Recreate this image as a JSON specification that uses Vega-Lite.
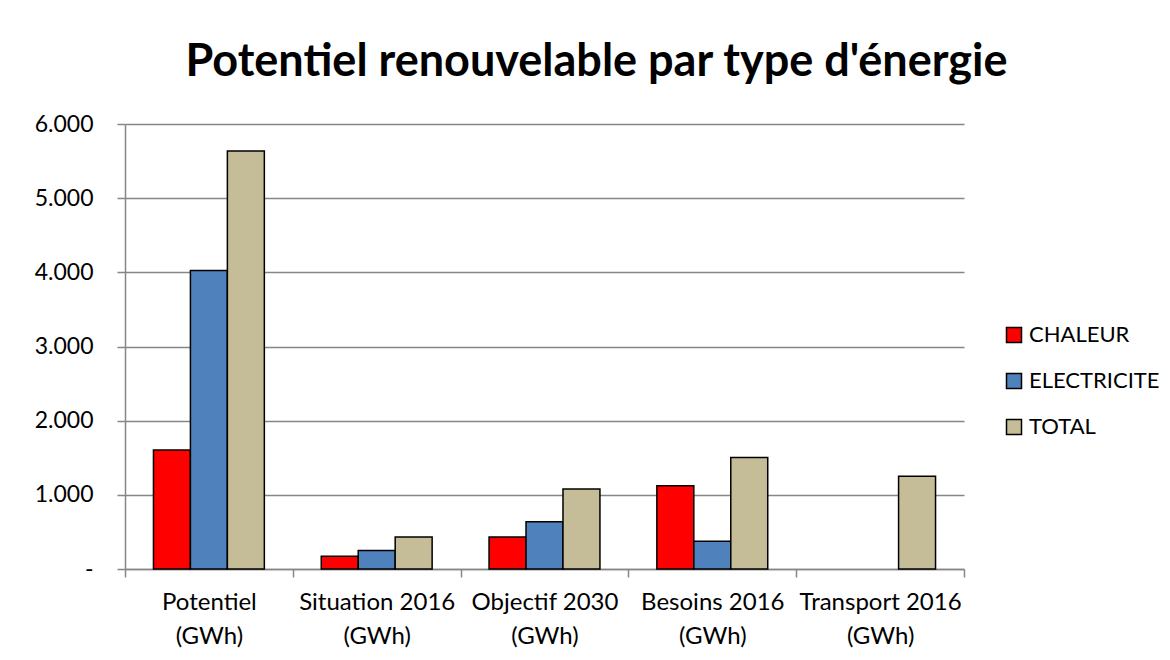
{
  "$schema": "https://vega.github.io/schema/vega-lite/v6.json",
  "autosize": "none",
  "width": 839,
  "height": 445,
  "padding": {"left": 125, "top": 124, "right": 206, "bottom": 91},
  "background": "white",
  "title": {
    "text": "Potentiel renouvelable par type d'énergie",
    "font": "Lato",
    "fontSize": 45,
    "fontWeight": "bold",
    "color": "#000000",
    "anchor": "middle",
    "dx": 52,
    "offset": 28
  },
  "data": {
    "values": [
      {"categorie": "Potentiel (GWh)", "serie": "CHALEUR", "valeur": 1605},
      {"categorie": "Potentiel (GWh)", "serie": "ELECTRICITE", "valeur": 4025},
      {"categorie": "Potentiel (GWh)", "serie": "TOTAL", "valeur": 5635},
      {"categorie": "Situation 2016 (GWh)", "serie": "CHALEUR", "valeur": 172},
      {"categorie": "Situation 2016 (GWh)", "serie": "ELECTRICITE", "valeur": 248},
      {"categorie": "Situation 2016 (GWh)", "serie": "TOTAL", "valeur": 430},
      {"categorie": "Objectif 2030 (GWh)", "serie": "CHALEUR", "valeur": 430},
      {"categorie": "Objectif 2030 (GWh)", "serie": "ELECTRICITE", "valeur": 638},
      {"categorie": "Objectif 2030 (GWh)", "serie": "TOTAL", "valeur": 1078},
      {"categorie": "Besoins 2016 (GWh)", "serie": "CHALEUR", "valeur": 1123},
      {"categorie": "Besoins 2016 (GWh)", "serie": "ELECTRICITE", "valeur": 373},
      {"categorie": "Besoins 2016 (GWh)", "serie": "TOTAL", "valeur": 1505},
      {"categorie": "Transport 2016 (GWh)", "serie": "TOTAL", "valeur": 1250}
    ]
  },
  "mark": {"type": "bar", "stroke": "#000000", "strokeWidth": 1.5},
  "encoding": {
    "x": {
      "field": "categorie",
      "type": "nominal",
      "sort": null,
      "scale": {"paddingInner": 0, "paddingOuter": 0},
      "axis": {
        "title": null,
        "labelAngle": 0,
        "labelFont": "Lato",
        "labelFontSize": 24,
        "labelColor": "#000000",
        "labelLineHeight": 34,
        "labelPadding": 13,
        "labelExpr": "isValid(datum.label) && datum.label != '' ? [replace(datum.label, ' (GWh)', ''), '(GWh)'] : ''",
        "tickBand": "extent",
        "tickSize": 8,
        "tickColor": "#868686",
        "tickWidth": 1.5,
        "domainColor": "#868686",
        "domainWidth": 1.5,
        "grid": false
      }
    },
    "xOffset": {
      "field": "serie",
      "type": "nominal",
      "sort": ["CHALEUR", "ELECTRICITE", "TOTAL"],
      "scale": {"paddingInner": 0, "paddingOuter": 0.77}
    },
    "y": {
      "field": "valeur",
      "type": "quantitative",
      "scale": {"domain": [0, 6000], "nice": false},
      "axis": {
        "title": null,
        "values": [0, 1000, 2000, 3000, 4000, 5000, 6000],
        "labelExpr": "datum.value == 0 ? '-\u00a0\u00a0\u00a0' : replace(format(datum.value, ','), ',', '.')",
        "labelFont": "Lato",
        "labelFontSize": 23,
        "labelColor": "#000000",
        "labelPadding": 24,
        "tickSize": 8,
        "tickColor": "#868686",
        "tickWidth": 1.5,
        "domainColor": "#868686",
        "domainWidth": 1.5,
        "grid": true,
        "gridColor": "#868686",
        "gridWidth": 1.5
      }
    },
    "color": {
      "field": "serie",
      "type": "nominal",
      "sort": ["CHALEUR", "ELECTRICITE", "TOTAL"],
      "scale": {"domain": ["CHALEUR", "ELECTRICITE", "TOTAL"], "range": ["#FF0000", "#4F81BD", "#C4BD97"]},
      "legend": {
        "title": null,
        "orient": "none",
        "legendX": 878,
        "legendY": 200,
        "symbolType": "square",
        "symbolSize": 225,
        "symbolStrokeColor": "#000000",
        "symbolStrokeWidth": 1.5,
        "symbolOpacity": 1,
        "labelFont": "Lato",
        "labelFontSize": 22,
        "labelColor": "#000000",
        "labelOffset": 4,
        "rowPadding": 24
      }
    }
  },
  "config": {
    "view": {"stroke": null},
    "bar": {"opacity": 1}
  }
}
